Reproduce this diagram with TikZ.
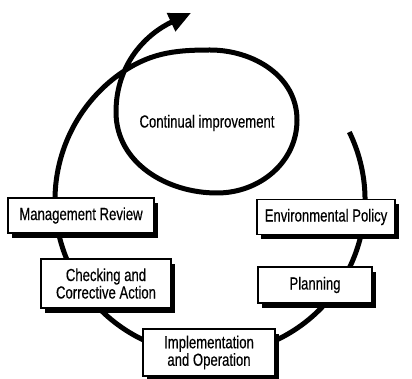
\documentclass[tikz,border=0pt]{standalone}
\usepackage{fontspec}
\setmainfont{Liberation Sans}[FakeStretch=0.75, FakeBold=0.4]
\usetikzlibrary{arrows.meta,shadows}

\begin{document}
\begin{tikzpicture}[x=1pt, y=1pt,
	stage/.style={draw, line width=1.8pt, fill=white, align=center, inner sep=0pt,
		general shadow={fill=black, shadow xshift=4pt, shadow yshift=-5pt},
		font=\fontsize{17.5}{17.5}\selectfont}]
	\useasboundingbox (0,0) rectangle (412,-379);
	% Define radius of the cycle
	\def \radius {155}
	% Draw spiral
	\draw[line width=5pt, -{Triangle[length=22pt, width=19pt]}]
		([shift={(210,-200)}]26:\radius) arc[start angle=26, end angle=-233.6, radius=\radius]
		to[out=36, in=180] (210,-50)
		to[out=0, in=90] (297,-120)
		to[out=-90, in=0] (217,-193)
		to[out=180, in=-90] (116,-112)
		to[out=90, in=205] (191,-13);
	% Draw stages
	\node[stage, minimum width=146pt, minimum height=35pt] (review) at (81,-215.5) {Management Review};
	\node[stage, minimum width=130pt, minimum height=49pt] (checking) at (106,-283.5) {Checking and\\Corrective Action};
	\node[stage, minimum width=132pt, minimum height=47pt] (implementation) at (209,-352.5) {Implementation\\and Operation};
	\node[stage, minimum width=114pt, minimum height=36pt] (planning) at (315,-285) {Planning};
	\node[stage, minimum width=138pt, minimum height=35pt] (policy) at (326,-217) {Environmental Policy};
	% Draw centre label
	\node[font=\fontsize{17.5}{17.5}\selectfont] (improvement) at (207,-123) {Continual improvement};
\end{tikzpicture}
\end{document}
